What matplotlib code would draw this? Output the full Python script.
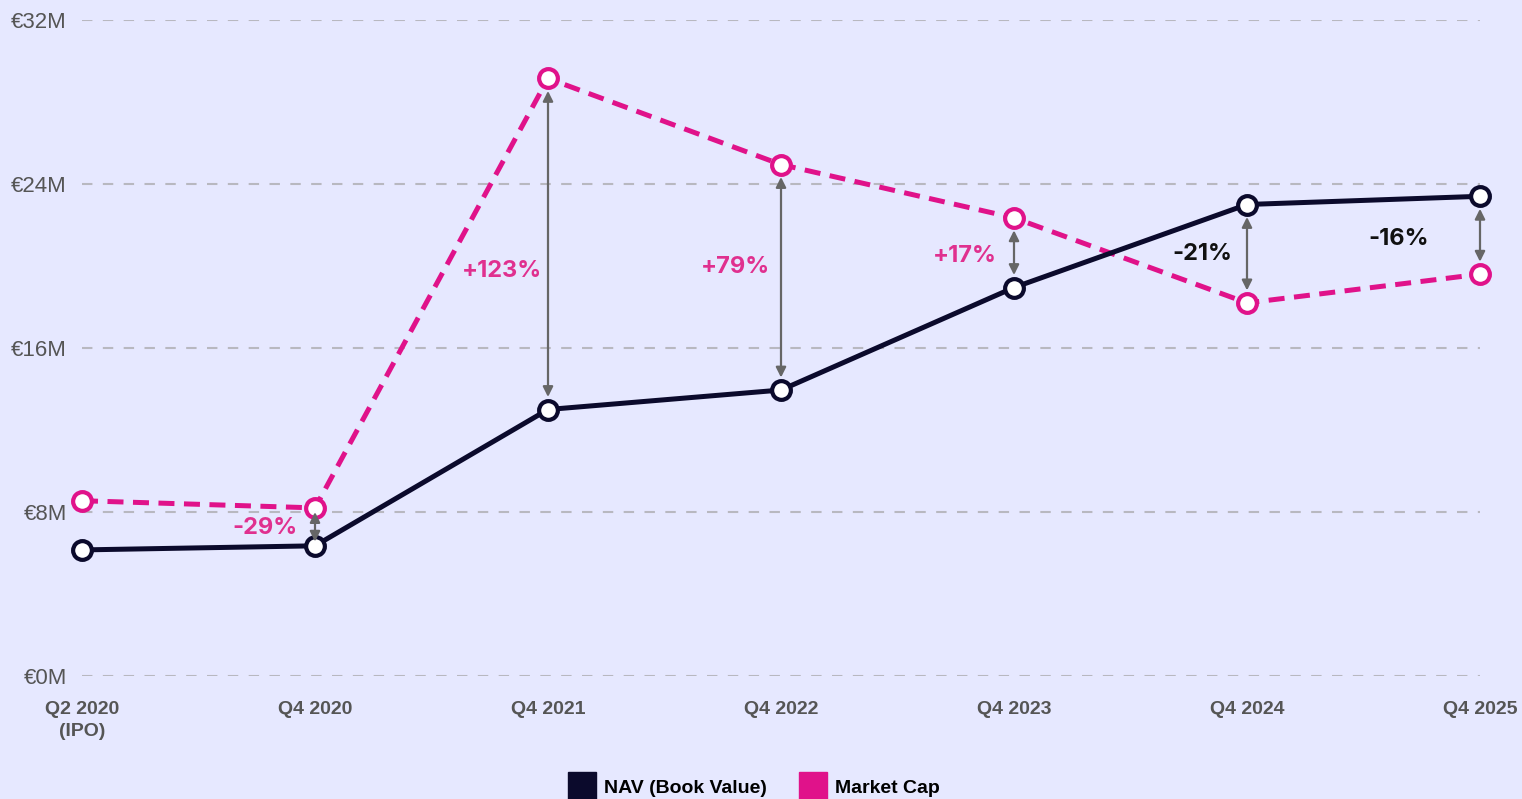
import numpy as np
import matplotlib
matplotlib.use("Agg")
import matplotlib.pyplot as plt
from matplotlib.lines import Line2D

plt.rcParams['font.family'] = ['Liberation Sans', 'DejaVu Sans']

# data (EUR millions)
quarters = ['Q2 2020\n(IPO)', 'Q4 2020', 'Q4 2021', 'Q4 2022', 'Q4 2023', 'Q4 2024', 'Q4 2025']
nav = [6.15, 6.35, 13.0, 13.95, 18.95, 23.0, 23.4]
mcap = [8.55, 8.2, 29.15, 24.95, 22.35, 18.2, 19.6]
gap_labels = ['-29%', '+123%', '+79%', '+17%', '-21%', '-16%']
gap_idx = [1, 2, 3, 4, 5, 6]
# label placement (x offset from the point, y in EUR M)
label_dx = [-0.215, -0.197, -0.197, -0.21, -0.193, -0.35]
label_y = [7.2, 19.75, 19.95, 20.5, 20.6, 21.3]

BG = '#e6e8ff'
NAVC = '#0b0a2c'
MCC = '#e0128a'
TXT_PINK = '#e0308f'

fig = plt.figure(figsize=(15.22, 7.99), dpi=100, facecolor=BG)
ax = fig.add_axes([82 / 1522, 123 / 799, (1480 - 82) / 1522, (676 - 20) / 799])
ax.set_facecolor(BG)

x = np.arange(len(quarters))
ax.plot(x, mcap, color=MCC, lw=3.6, ls=(0, (3.2, 1.9)), marker='o', ms=13.5,
        mfc='white', mec=MCC, mew=3, clip_on=False, zorder=3)
ax.plot(x, nav, color=NAVC, lw=3.6, marker='o', ms=13.5,
        mfc='white', mec=NAVC, mew=3, clip_on=False, zorder=4)

for k, i in enumerate(gap_idx):
    lo, hi = sorted([nav[i], mcap[i]])
    shr = 3 if hi - lo < 3 else 9
    ax.annotate('', xy=(i, lo), xytext=(i, hi),
                arrowprops=dict(arrowstyle='<|-|>', color='#666666', lw=1.6,
                                mutation_scale=15, shrinkA=shr, shrinkB=shr),
                zorder=5)
    col = TXT_PINK if mcap[i] > nav[i] or k == 0 else '#111111'
    ax.text(i + label_dx[k], label_y[k], gap_labels[k], color=col,
            fontsize=17, fontweight='bold', ha='center', va='center',
            family=['Inter', 'DejaVu Sans'])

ax.set_xlim(0, len(quarters) - 1)
ax.set_ylim(0, 32)
ax.set_yticks([0, 8, 16, 24, 32])
ax.set_yticklabels(['€%dM' % v for v in [0, 8, 16, 24, 32]])
ax.set_xticks(x)
ax.set_xticklabels(quarters, fontweight='bold', linespacing=1.4)
ax.tick_params(axis='y', length=0, pad=11, labelsize=16, labelcolor='#555555')
ax.tick_params(axis='x', length=0, pad=18, labelsize=14, labelcolor='#555555')
ax.grid(axis='y', color='#b8b8c0', lw=1.5, ls=(0, (5, 5)))
ax.set_axisbelow(True)
for s in ax.spines.values():
    s.set_visible(False)

handles = [Line2D([], [], ls='', marker='s', ms=20, mfc=NAVC, mec=NAVC),
           Line2D([], [], ls='', marker='s', ms=20, mfc=MCC, mec=MCC)]
fig.legend(handles, ['NAV (Book Value)', 'Market Cap'], loc='center',
           bbox_to_anchor=(755 / 1522, 1 - 788 / 799), ncol=2, frameon=False,
           prop={'weight': 'bold', 'size': 14}, handletextpad=0.5,
           columnspacing=1.8, handlelength=1.2)

fig.savefig('out.png', dpi=100, facecolor=BG)
